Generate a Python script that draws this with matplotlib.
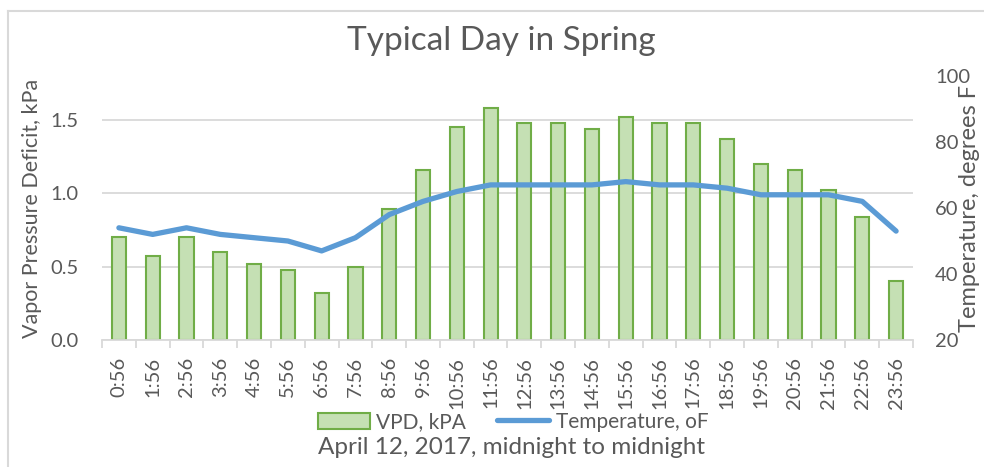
import numpy as np
import matplotlib
matplotlib.use("Agg")
import matplotlib.pyplot as plt
from matplotlib.lines import Line2D
from matplotlib.patches import Patch

plt.rcParams['font.family'] = ['Lato', 'DejaVu Sans']

categories = ["0:56", "1:56", "2:56", "3:56", "4:56", "5:56", "6:56", "7:56",
              "8:56", "9:56", "10:56", "11:56", "12:56", "13:56", "14:56", "15:56",
              "16:56", "17:56", "18:56", "19:56", "20:56", "21:56", "22:56", "23:56"]
vpd = [0.70, 0.57, 0.70, 0.60, 0.52, 0.48, 0.32, 0.50, 0.89, 1.16, 1.45, 1.58,
       1.48, 1.48, 1.44, 1.52, 1.48, 1.48, 1.37, 1.20, 1.16, 1.02, 0.84, 0.40]
temperature = [54, 52, 54, 52, 51, 50, 47, 51, 58, 62, 65, 67,
               67, 67, 67, 68, 67, 67, 66, 64, 64, 64, 62, 53]
left_ticks = [0.0, 0.5, 1.0, 1.5]
right_ticks = [20, 40, 60, 80, 100]

TXT = '#595959'
GRID = '#d9d9d9'
W, H = 984, 467

fig = plt.figure(figsize=(W / 100, H / 100), dpi=100)
fig.patch.set_facecolor('white')
ax = fig.add_axes([102 / W, 1 - 340 / H, (913 - 102) / W, (340 - 76) / H])

x = np.arange(len(categories))
ax.bar(x, vpd, width=0.42, color='#c5e0b4', edgecolor='#70ad47', linewidth=1.5, zorder=2)
ax.set_xlim(-0.5, len(categories) - 0.5)
ax.set_ylim(0, 1.8)
ax.set_yticks(left_ticks)
ax.set_yticklabels([f"{v:.1f}" for v in left_ticks])
ax.yaxis.grid(True, color=GRID, linewidth=1.3, zorder=0)
ax.set_axisbelow(True)
for s in ['left', 'right', 'top']:
    ax.spines[s].set_visible(False)
ax.spines['bottom'].set_color(GRID)
ax.spines['bottom'].set_linewidth(1.3)
ax.set_xticks(x)
ax.set_xticklabels(categories, rotation=90)
ax.set_xticks(np.arange(-0.5, len(categories), 1.0), minor=True)
ax.tick_params(axis='x', which='major', length=0, pad=12, labelsize=14.5, labelcolor=TXT)
ax.tick_params(axis='x', which='minor', length=6, width=1.3, color=GRID)
ax.tick_params(axis='y', length=0, pad=17, labelsize=14.5, labelcolor=TXT)
ax.set_ylabel("Vapor Pressure Deficit, kPa", fontsize=15.5, color=TXT, labelpad=6)

ax2 = ax.twinx()
ax2.plot(x, temperature, color='#5b9bd5', linewidth=3.8, solid_capstyle='round',
         solid_joinstyle='round', zorder=3)
ax2.set_ylim(20, 100)
ax2.set_yticks(right_ticks)
for s in ['left', 'right', 'top', 'bottom']:
    ax2.spines[s].set_visible(False)
ax2.tick_params(axis='y', length=0, pad=16, labelsize=14.5, labelcolor=TXT)

fig.text(970 / W, 1 - 208 / H, "Temperature, degrees F", rotation=90, ha='center',
         va='center', fontsize=17, color=TXT)
fig.text(501 / W, 1 - 41 / H, "Typical Day in Spring", ha='center', va='center',
         fontsize=24, color=TXT)
fig.text(512 / W, 1 - 447 / H, "April 12, 2017, midnight to midnight", ha='center',
         va='center', fontsize=17.5, color=TXT)

handles = [Patch(facecolor='#c5e0b4', edgecolor='#70ad47', linewidth=1.5),
           Line2D([0], [0], color='#5b9bd5', linewidth=3.8, solid_capstyle='round')]
fig.legend(handles, ["VPD, kPA", "Temperature, oF"], loc='center',
           bbox_to_anchor=(513 / W, 1 - 422 / H), ncol=2, frameon=False,
           fontsize=15, labelcolor=TXT, handlelength=2.5, handletextpad=0.3,
           columnspacing=1.5, handleheight=0.8, borderpad=0.1)

fig.add_artist(Line2D([8 / W, 8 / W], [0, 1 - 11 / H], transform=fig.transFigure,
                      color=GRID, linewidth=1.5))
fig.add_artist(Line2D([8 / W, 1], [1 - 11 / H, 1 - 11 / H], transform=fig.transFigure,
                      color=GRID, linewidth=1.5))

fig.savefig("out.png", dpi=100, facecolor='white')
